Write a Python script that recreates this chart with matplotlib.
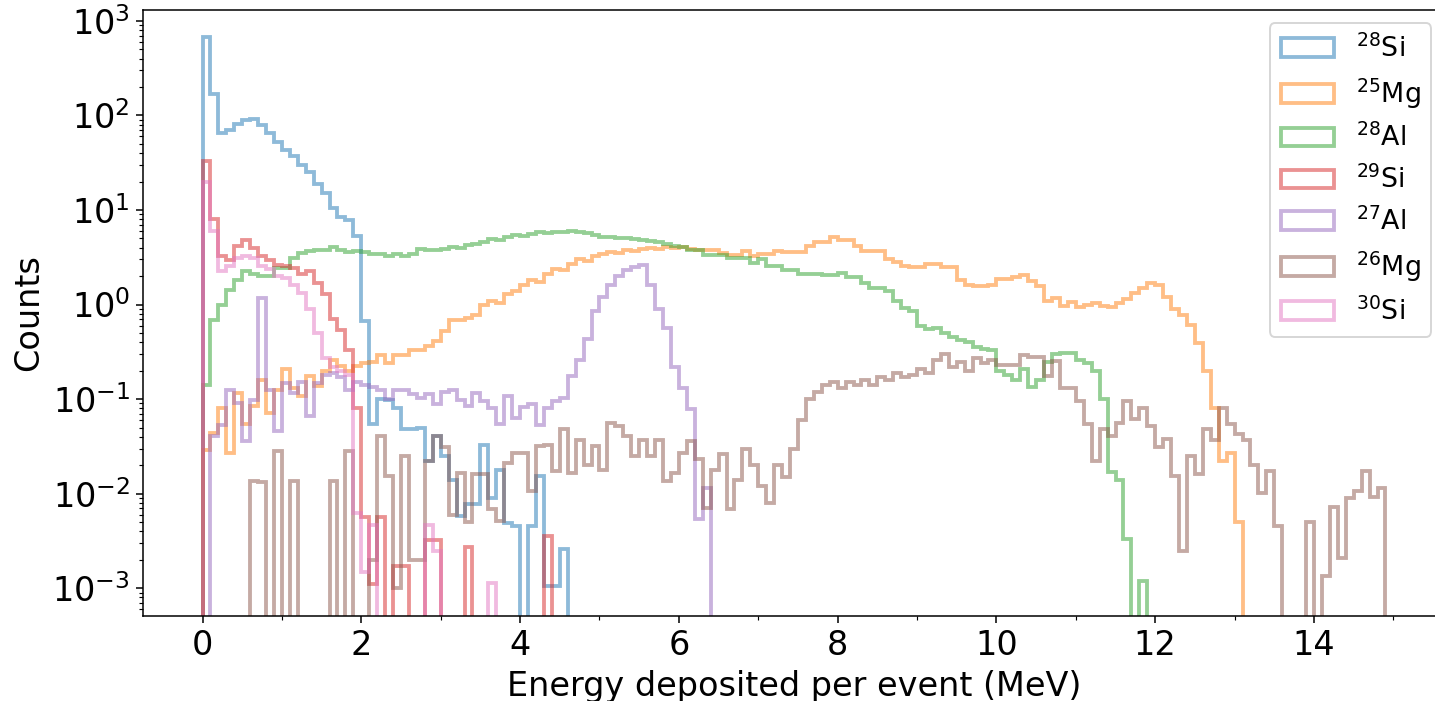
import numpy as np
import matplotlib
matplotlib.use("Agg")
import matplotlib.pyplot as plt
from matplotlib.ticker import MultipleLocator

# bin edges (MeV), 0.1 MeV wide
bin_edges = np.round(np.arange(0, 14.95, 0.1), 1)

# counts per bin
si28 = [680, 169, 65, 71, 82, 90, 92, 80, 66, 53,
        43, 37, 30, 25, 19, 15, 10.5, 8.5, 7.9, 5.3,
        0.67, 0.054, 0.1, 0.099, 0.081, 0.048, 0.048, 0.05, 0.022, 0.041,
        0.025, 0.014, 0.0058, 0.0077, 0.0077, 0.033, 0.0091, 0.018, 0.0049, 0.0045,
        0, 0.0045, 0.0153, 0.00105, 0.00105, 0.0026] + [0] * 103

mg25 = [0.029, 0.044, 0.081, 0.027, 0.116, 0.054, 0.084, 0.161, 0.072, 0.126,
        0.206, 0.132, 0.107, 0.175, 0.137, 0.197, 0.262, 0.223, 0.197, 0.223,
        0.242, 0.25, 0.296, 0.242, 0.296, 0.296, 0.33, 0.33, 0.363, 0.41,
        0.52, 0.69, 0.69, 0.72, 0.78, 1.0, 1.1, 1.05, 1.3, 1.4,
        1.6, 1.8, 1.75, 2.1, 2.4, 2.3, 2.7, 3.0, 2.9, 3.3,
        3.4, 3.6, 3.5, 3.8, 3.7, 3.9, 4.0, 3.9, 4.1, 4.0,
        4.1, 3.9, 3.75, 3.75, 3.75, 3.52, 3.38, 3.38, 3.66, 3.25,
        3.43, 3.43, 3.66, 3.6, 3.6, 3.6, 4.2, 4.6, 4.6, 5.19,
        4.79, 4.79, 4.14, 3.7, 3.7, 3.7, 3.04, 2.8, 2.54, 2.48,
        2.48, 2.69, 2.69, 2.5, 2.5, 1.84, 1.63, 1.56, 1.56, 1.63,
        1.87, 1.87, 1.96, 2.08, 1.77, 1.56, 1.08, 1.18, 0.96, 1.06,
        0.945, 1.0, 1.04, 0.976, 0.945, 1.03, 1.15, 1.33, 1.5, 1.69,
        1.6, 1.2, 0.9, 0.78, 0.61, 0.39, 0.197, 0.081, 0.022, 0.027,
        0.005] + [0] * 18

al28 = [0.14, 0.69, 1.0, 1.44, 1.84, 2.25, 2.13, 2.03, 2.0, 2.44,
        2.44, 3.1, 3.5, 3.7, 3.8, 3.8, 4.07, 3.8, 3.6, 3.7,
        3.6, 3.4, 3.45, 3.3, 3.4, 3.3, 3.45, 3.9, 3.8, 3.8,
        3.9, 4.1, 4.0, 4.3, 4.4, 4.6, 4.9, 4.8, 5.2, 5.4,
        5.3, 5.6, 5.8, 5.7, 5.9, 5.8, 6.0, 5.9, 5.7, 5.5,
        5.2, 5.2, 5.0, 5.0, 4.9, 4.8, 4.7, 4.6, 4.4, 4.2,
        4.04, 3.81, 3.81, 3.38, 3.38, 3.38, 3.11, 3.11, 3.11, 2.76,
        3.0, 2.58, 2.58, 2.3, 2.3, 2.13, 2.13, 2.13, 2.08, 2.08,
        2.15, 1.96, 1.96, 1.69, 1.5, 1.5, 1.38, 1.08, 0.92, 0.85,
        0.6, 0.55, 0.57, 0.5, 0.45, 0.42, 0.4, 0.36, 0.34, 0.33,
        0.2, 0.18, 0.16, 0.21, 0.135, 0.16, 0.25, 0.3, 0.31, 0.31,
        0.26, 0.24, 0.2, 0.1, 0.017, 0.014, 0.0033, 0, 0.0012] + [0] * 30

si29 = [33, 8.05, 3.3, 2.99, 4.14, 4.86, 3.97, 3.3, 2.99, 2.65,
        2.54, 2.44, 2.13, 2.25, 1.69, 1.28, 0.7, 0.54, 0.33, 0.081,
        0.0056, 0.0011, 0.0056, 0, 0.0017, 0.0017, 0, 0, 0.0032, 0.0032,
        0, 0, 0, 0.0027, 0, 0, 0, 0, 0, 0,
        0, 0, 0, 0.0036] + [0] * 105

al27 = [0, 0.041, 0.053, 0.126, 0.091, 0.036, 0.099, 1.18, 0.126, 0.046,
        0.149, 0.116, 0.15, 0.066, 0.149, 0.182, 0.19, 0.17, 0.126, 0.153,
        0.14, 0.135, 0.126, 0.1, 0.126, 0.126, 0.112, 0.103, 0.112, 0.088,
        0.12, 0.126, 0.099, 0.085, 0.116, 0.095, 0.081, 0.054, 0.107, 0.063,
        0.083, 0.088, 0.053, 0.081, 0.095, 0.103, 0.175, 0.26, 0.43, 0.85,
        1.2, 1.6, 2.0, 2.3, 2.5, 2.6, 1.6, 0.89, 0.57, 0.22,
        0.13, 0.078, 0.0054, 0.0115] + [0] * 85

mg26 = [0, 0, 0, 0, 0, 0, 0.0136, 0.0133, 0, 0.028,
        0, 0.0136, 0, 0, 0, 0, 0.0136, 0, 0.028, 0,
        0, 0.002, 0.041, 0.0155, 0.001, 0.025, 0.002, 0.002, 0.022, 0.041,
        0.031, 0.006, 0.0166, 0.005, 0.016, 0.016, 0.0069, 0.0051, 0.021, 0.027,
        0.027, 0.0106, 0.032, 0.033, 0.0175, 0.048, 0.0166, 0.037, 0.02, 0.032,
        0.018, 0.056, 0.052, 0.041, 0.025, 0.037, 0.025, 0.037, 0.0137, 0.0166,
        0.027, 0.036, 0.023, 0.0071, 0.018, 0.026, 0.0069, 0.014, 0.03, 0.02,
        0.012, 0.008, 0.02, 0.015, 0.03, 0.06, 0.1, 0.12, 0.14, 0.15,
        0.13, 0.15, 0.14, 0.16, 0.14, 0.17, 0.16, 0.19, 0.17, 0.18,
        0.21, 0.19, 0.26, 0.3, 0.22, 0.25, 0.2, 0.27, 0.24, 0.26,
        0.232, 0.232, 0.232, 0.296, 0.28, 0.28, 0.175, 0.252, 0.131, 0.131,
        0.095, 0.054, 0.022, 0.048, 0.041, 0.056, 0.095, 0.062, 0.081, 0.052,
        0.031, 0.038, 0.0153, 0.0025, 0.025, 0.016, 0.048, 0.037, 0.081, 0.054,
        0.043, 0.037, 0.02, 0.0102, 0.0175, 0.0045, 0, 0, 0, 0.005,
        0, 0.00134, 0.0072, 0.0021, 0.009, 0.0106, 0.0175, 0.0093, 0.0115]

si30 = [20, 5.96, 2.25, 2.54, 3.11, 3.3, 3.11, 2.54, 2.4, 1.99,
        1.9, 1.63, 1.33, 0.9, 0.5, 0.27, 0.22, 0.2, 0.18, 0.0063,
        0.0015, 0.0047, 0, 0, 0, 0, 0, 0, 0.0047, 0.0025,
        0, 0, 0, 0, 0, 0, 0.00114] + [0] * 112

series = [si28, mg25, al28, si29, al27, mg26, si30]
labels = [r'$^{28}$Si', r'$^{25}$Mg', r'$^{28}$Al', r'$^{29}$Si',
          r'$^{27}$Al', r'$^{26}$Mg', r'$^{30}$Si']

fig = plt.figure(figsize=(1435 / 138, 701 / 138), dpi=138)
ax = fig.add_axes([0.0999, 0.1213, 0.9068, 0.8645])

centers = bin_edges[:-1] + 0.05
for counts, lab in zip(series, labels):
    ax.hist(centers, bins=bin_edges, weights=counts, histtype='step',
            alpha=0.5, linewidth=2, label=lab)

ax.set_yscale('log')
ax.set_xlim(-0.745, 15.645)
ax.set_ylim(5.09e-4, 1306)
ax.xaxis.set_minor_locator(MultipleLocator(1))
ax.tick_params(labelsize=17.5)
ax.set_xlabel('Energy deposited per event (MeV)', fontsize=17.5)
ax.set_ylabel('Counts', fontsize=17.5)
ax.legend(loc='upper right', fontsize=14)

fig.savefig('out.png', dpi=138)
